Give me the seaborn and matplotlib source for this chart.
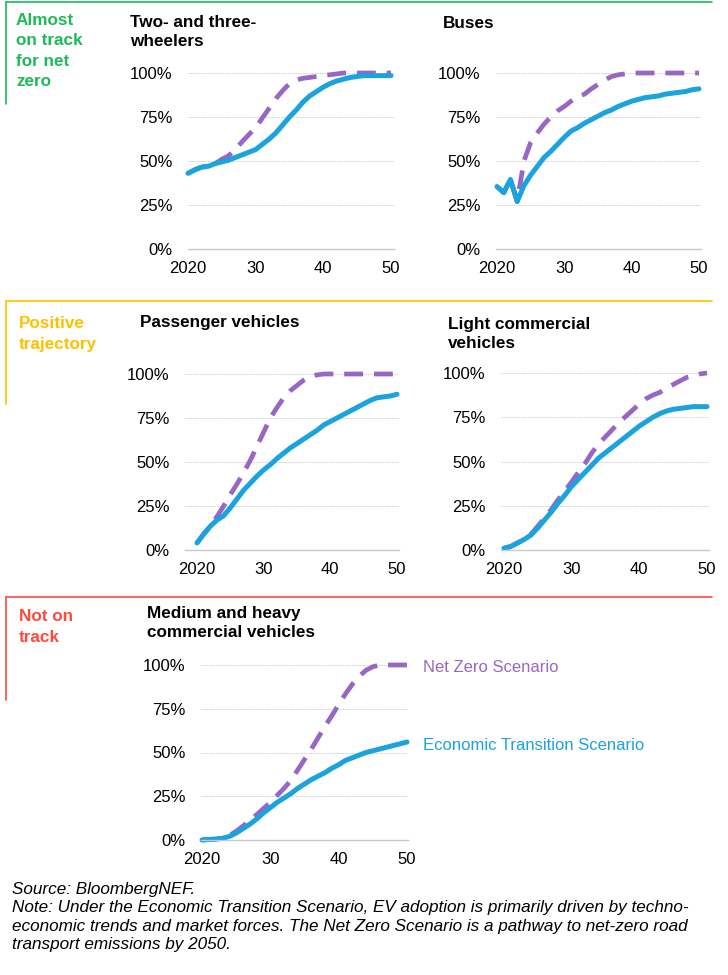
import matplotlib
matplotlib.use("Agg")
import matplotlib.pyplot as plt
from matplotlib.lines import Line2D
import seaborn as sns

# ------------------------------------
# Data: EV share of sales (%)
# ------------------------------------
YEARS = list(range(2020, 2051))
X_TICKS = [2020, 2030, 2040, 2050]
X_TICK_LABELS = ["2020", "30", "40", "50"]
Y_TICKS = [0, 25, 50, 75, 100]

TWO_WHEEL_ETS = [43, 45, 46.5, 47, 48.5, 49.5, 50.5, 52, 53.5, 55, 56.5, 59.5, 62.5, 66, 70.5, 75,
                 79, 83.5, 87, 89.5, 92, 94, 95.5, 96.5, 97.5, 98, 98.5, 98.5, 98.5, 98.5, 98.5]
TWO_WHEEL_NZS = [43, 45, 46.5, 47, 48.5, 51, 53, 56.5, 61, 65, 69, 74.5, 80, 85.5, 90, 94,
                 96, 97, 97.5, 98, 98.5, 99, 99.5, 100, 100, 100, 100, 100, 100, 100, 100]

BUS_ETS = [35.5, 32, 39.5, 27, 36, 42, 47, 52, 55.5, 59.5, 63.5, 67, 69, 71.5, 73.5, 75.5,
           77.5, 79, 81, 82.5, 84, 85, 86, 86.5, 87, 88, 88.5, 89, 89.5, 90.5, 91]
BUS_NZS = [35.5, 32, 39.5, 27, 50, 60.5, 66, 71, 75, 78.5, 81, 84, 86.5, 88, 91, 93.5,
           96, 98, 99, 99.5, 100, 100, 100, 100, 100, 100, 100, 100, 100, 100, 100]

PV_ETS = [4, 9, 13.5, 17, 19.5, 24, 29, 34, 38, 42, 45.5, 48.5, 52, 55, 58, 60.5,
          63, 65.5, 68, 71, 73, 75, 77, 79, 81, 83, 85, 86.5, 87, 87.5, 88.5]
PV_NZS = [4, 9, 13.5, 19, 25, 31.5, 37.5, 44, 51, 59, 67, 75, 81, 86.5, 90.5, 93.5,
          96.5, 98.5, 99.5, 100, 100, 100, 100, 100, 100, 100, 100, 100, 100, 100, 100]

LCV_ETS = [1, 2, 4, 6, 8.5, 12.5, 17, 21.5, 26.5, 31, 36, 40, 44, 48, 52, 55,
           58, 61, 64, 67, 70, 72.5, 75, 77, 78.5, 79.5, 80, 80.5, 81, 81, 81]
LCV_NZS = [1, 2, 4, 6, 9, 13.5, 18, 23, 28.5, 33.5, 38.5, 44, 49, 55, 60, 64,
           68, 72, 75.5, 79, 82.5, 85.5, 87.5, 89, 91.5, 93.5, 95.5, 97.5, 98.5, 99.5, 100]

MHCV_ETS = [0, 0.3, 0.5, 1, 2, 4, 6.5, 9, 12, 15.5, 18.5, 21.5, 24, 26.5, 29.5, 32,
            34.5, 36.5, 38.5, 41, 43, 45.5, 47, 48.5, 50, 51, 52, 53, 54, 55, 56]
MHCV_NZS = [0, 0.3, 0.5, 1, 2.5, 5, 8, 11, 14.5, 18, 21.5, 25.5, 29.5, 34, 40, 46,
            52, 58.5, 65, 71, 77.5, 83.5, 89, 93.5, 97, 99, 100, 100, 100, 100, 100]

# ------------------------------------
# Style
# ------------------------------------
W, H = 728, 975
BLUE = "#1AA3DE"
PURPLE = "#9866C4"
GREEN = "#1DB95B"
YELLOW = "#FFC000"
RED = "#FF4A3D"

sns.set_theme(style="white")
plt.rcParams["font.family"] = ["Liberation Sans", "DejaVu Sans"]

fig = plt.figure(figsize=(W / 100, H / 100), dpi=100)


def fx(x):
    return x / W


def fy(y):
    return 1 - y / H


# ------------------------------------
# One panel
# ------------------------------------
def add_panel(ets, nzs, x2020, x2050, gl, gr, y100, y0):
    ax = fig.add_axes([fx(gl), fy(y0), (gr - gl) / W, (y0 - y100) / H])
    ppy = (x2050 - x2020) / 30.0
    ax.set_xlim(2020 - (x2020 - gl) / ppy, 2050 + (gr - x2050) / ppy)
    ax.set_ylim(0, 100)

    sns.lineplot(x=YEARS, y=nzs, ax=ax, color=PURPLE, linewidth=3.4)
    ax.lines[-1].set_dashes([4, 2.3])
    sns.lineplot(x=YEARS, y=ets, ax=ax, color=BLUE, linewidth=3.6)
    for ln in ax.lines:
        ln.set_clip_on(False)
        ln.set_solid_capstyle("round")

    ax.set_yticks(Y_TICKS)
    ax.set_yticklabels([f"{v}%" for v in Y_TICKS])
    ax.set_xticks(X_TICKS)
    ax.set_xticklabels(X_TICK_LABELS)
    ax.tick_params(axis="y", length=0, pad=11, labelsize=12, colors="#000000")
    ax.tick_params(axis="x", length=0, pad=9, labelsize=12, colors="#000000")
    ax.yaxis.grid(True, color="#CFCFCF", linestyle=(0, (1.5, 1)), linewidth=0.7)
    ax.xaxis.grid(False)
    for s in ["top", "right", "left"]:
        ax.spines[s].set_visible(False)
    ax.spines["bottom"].set_color("#C8C8C8")
    ax.spines["bottom"].set_linewidth(1.0)
    ax.set_xlabel("")
    ax.set_ylabel("")
    ax.set_zorder(1)
    ax.patch.set_alpha(0)
    return ax


add_panel(TWO_WHEEL_ETS, TWO_WHEEL_NZS, 188, 391, 188, 394, 73, 249)
add_panel(BUS_ETS, BUS_NZS, 497, 699, 496, 701, 73, 249)
add_panel(PV_ETS, PV_NZS, 197, 397, 185, 399, 374, 550)
add_panel(LCV_ETS, LCV_NZS, 504, 707, 501, 709, 373, 550)
add_panel(MHCV_ETS, MHCV_NZS, 202, 407, 201, 408, 665, 840)

# ------------------------------------
# Panel titles
# ------------------------------------
title_kw = dict(fontsize=12.3, fontweight="bold", color="#000000", va="center", ha="left",
                linespacing=1.35)
fig.text(fx(130), fy(32), "Two- and three-\nwheelers", **title_kw)
fig.text(fx(443), fy(23), "Buses", **title_kw)
fig.text(fx(140), fy(322), "Passenger vehicles", **title_kw)
fig.text(fx(448), fy(334), "Light commercial\nvehicles", **title_kw)
fig.text(fx(147), fy(623), "Medium and heavy\ncommercial vehicles", **title_kw)

# ------------------------------------
# Category boxes and labels
# ------------------------------------
def add_bracket(y_top, y_bottom, color):
    fig.add_artist(Line2D([fx(6), fx(712)], [fy(y_top), fy(y_top)], color=color, lw=1.2,
                          transform=fig.transFigure))
    fig.add_artist(Line2D([fx(6), fx(6)], [fy(y_top), fy(y_bottom)], color=color, lw=1.2,
                          transform=fig.transFigure))


add_bracket(2, 104, GREEN)
add_bracket(301, 404, YELLOW)
add_bracket(597, 700, RED)

cat_kw = dict(fontsize=12.3, fontweight="bold", va="center", ha="left", linespacing=1.42)
fig.text(fx(16), fy(51), "Almost\non track\nfor net\nzero", color=GREEN, **cat_kw)
fig.text(fx(19), fy(334), "Positive\ntrajectory", color=YELLOW, **cat_kw)
fig.text(fx(19), fy(627), "Not on\ntrack", color=RED, **cat_kw)

# ------------------------------------
# Series labels
# ------------------------------------
fig.text(fx(423), fy(667), "Net Zero Scenario", color=PURPLE, fontsize=12, va="center")
fig.text(fx(423), fy(745), "Economic Transition Scenario", color=BLUE, fontsize=12, va="center")

# ------------------------------------
# Source / note
# ------------------------------------
note = ("Source: BloombergNEF.\n"
        "Note: Under the Economic Transition Scenario, EV adoption is primarily driven by techno-\n"
        "economic trends and market forces. The Net Zero Scenario is a pathway to net-zero road\n"
        "transport emissions by 2050.")
fig.text(fx(12), fy(917), note, fontsize=12.3, style="italic", color="#000000", va="center",
         ha="left", linespacing=1.3)

fig.savefig("out.png", dpi=100)
